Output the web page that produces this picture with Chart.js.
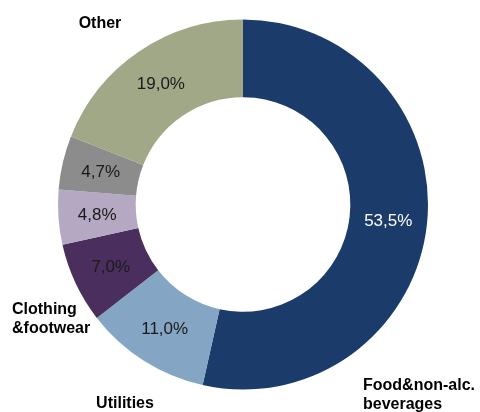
<!DOCTYPE html>
<html>
<head>
<meta charset="utf-8">
<script src="https://cdn.jsdelivr.net/npm/chart.js@4.4.1/dist/chart.umd.min.js"></script>
<style>
  html, body { margin: 0; padding: 0; background: #fff; }
  #wrap { width: 480px; height: 412px; position: relative; }
</style>
</head>
<body>
<div id="wrap"><canvas id="spendChart"></canvas></div>
<script>
// household spending shares, clockwise from 12 o'clock
var categories = ["Food&non-alc. beverages", "Utilities", "Clothing &footwear", "Furnishings", "Transport", "Other"]
var shares = [53.5, 11.0, 7.0, 4.8, 4.7, 19.0]
var sliceColors = ["#1b3c6a", "#84a6c4", "#4a2f5e", "#b4a8c2", "#8c8c8c", "#a0a888"]
var valueColors = ["#ffffff", "#1a1a1a", "#1a1a1a", "#1a1a1a", "#1a1a1a", "#1a1a1a"]

// category names written outside the ring (only some slices get one)
var outerLabels = [
  { i: 0, lines: ["Food&non-alc.", "beverages"], x: 363, y: 390, align: "left" },
  { i: 1, lines: ["Utilities"], x: 125, y: 408, align: "center" },
  { i: 2, lines: ["Clothing", "&footwear"], x: 12, y: 314, align: "left" },
  { i: 5, lines: ["Other"], x: 100, y: 28, align: "center" }
]

function fmt(v) {
  return v.toFixed(1).replace(".", ",") + "%"
}

var sliceValues = {
  id: "sliceValues",
  afterDatasetsDraw: function(chart) {
    var ctx = chart.ctx
    var meta = chart.getDatasetMeta(0)
    ctx.save()
    ctx.font = "17px 'Liberation Sans', Arial, sans-serif"
    ctx.textAlign = "center"
    ctx.textBaseline = "middle"
    meta.data.forEach(function(arc, i) {
      var p = arc.tooltipPosition()
      ctx.fillStyle = valueColors[i]
      ctx.fillText(fmt(shares[i]), p.x, p.y + 1)
    })
    ctx.restore()
  }
}

var categoryNames = {
  id: "categoryNames",
  afterDraw: function(chart) {
    var ctx = chart.ctx
    ctx.save()
    ctx.font = "bold 16px 'Liberation Sans', Arial, sans-serif"
    ctx.fillStyle = "#000"
    ctx.textBaseline = "alphabetic"
    outerLabels.forEach(function(l) {
      ctx.textAlign = l.align
      l.lines.forEach(function(t, k) {
        ctx.fillText(t, l.x, l.y + k * 19)
      })
    })
    ctx.restore()
  }
}

var ctx = document.getElementById("spendChart")
var chart = new Chart(ctx, {
  type: "doughnut",
  data: {
    labels: categories,
    datasets: [{
      data: shares,
      backgroundColor: sliceColors,
      borderWidth: 0
    }]
  },
  options: {
    responsive: true,
    maintainAspectRatio: false,
    animation: false,
    cutout: "58%",
    layout: {
      padding: { left: 58, right: 52, top: 19, bottom: 22 }
    },
    plugins: {
      legend: { display: false },
      tooltip: { enabled: false }
    }
  },
  plugins: [sliceValues, categoryNames]
})
</script>
</body>
</html>
